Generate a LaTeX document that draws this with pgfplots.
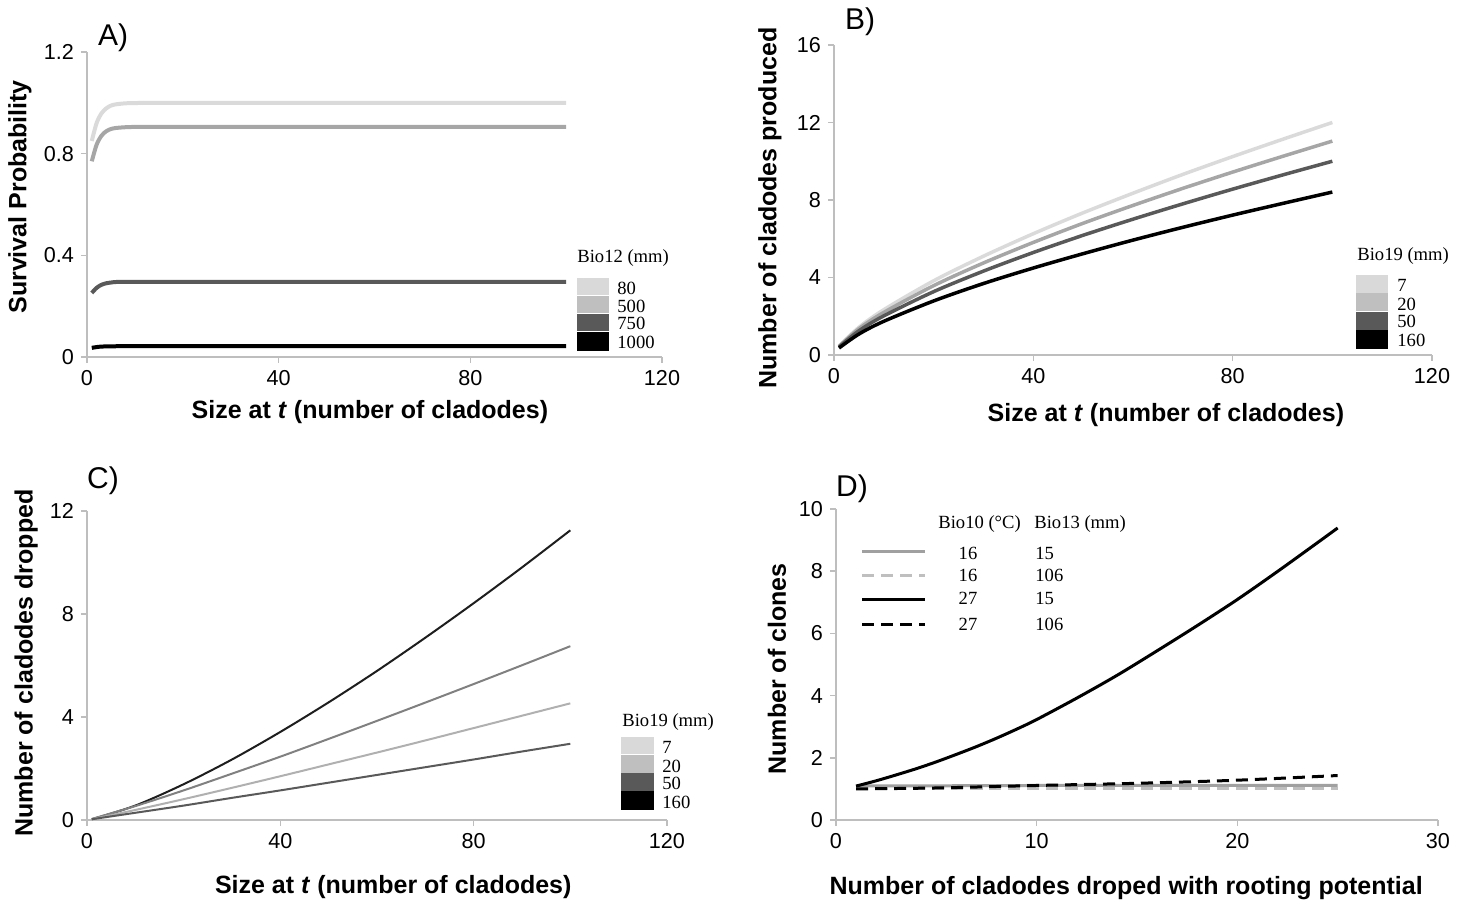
\documentclass[border=0pt]{standalone}
\usepackage{fontspec}
\setmainfont{Liberation Sans}
\newfontfamily\tnr{Liberation Serif}
\usepackage{pgfplots}
\pgfplotsset{compat=1.18}

\definecolor{axgray}{HTML}{BEBEBE}
\definecolor{sw1}{HTML}{D9D9D9}
\definecolor{sw2}{HTML}{BFBFBF}
\definecolor{sw3}{HTML}{595959}
\definecolor{ln1}{HTML}{DADADA}
\definecolor{ln2}{HTML}{A6A6A6}
\definecolor{ln3}{HTML}{595959}
\definecolor{cTop}{HTML}{1E1E1E}
\definecolor{cMid}{HTML}{808080}
\definecolor{cLight}{HTML}{B0B0B0}
\definecolor{dGray}{HTML}{A0A0A0}
\definecolor{dLight}{HTML}{BFBFBF}

\pgfplotsset{
  panel/.style={
    scale only axis,
    axis lines=left,
    axis line style={-, draw=axgray, line width=0.7pt},
    tick style={draw=axgray, line width=0.7pt},
    tick align=outside,
    major tick length=3pt,
    ticklabel style={font=\fontsize{10.8}{12}\selectfont},
    /pgf/number format/assume math mode=true,
    label style={font=\bfseries\fontsize{12.5}{14}\selectfont},
    xlabel style={anchor=center},
    ylabel style={anchor=center},
    clip=false,
    every axis plot/.append style={no marks, smooth},
  },
}

\begin{document}
\begin{tikzpicture}
\useasboundingbox (0,0) rectangle (732pt,450.5pt);

% A) survival
\begin{axis}[panel, at={(43.5pt,272pt)}, anchor=south west,
  width=287.5pt, height=152.5pt,
  xmin=0, xmax=120, ymin=0, ymax=1.2,
  xtick={0,40,80,120}, ytick={0,0.4,0.8,1.2},
  xlabel={Size at \textit{t} (number of cladodes)},
  ylabel={Survival Probability},
  xlabel style={at={(axis description cs:0.492,-0.18)}},
  ylabel style={at={(axis description cs:-0.1165,0.525)}}]
\addplot[ln1, line width=2pt] coordinates {(1,0.85)(2,0.92)(3,0.958)(4,0.978)(5,0.989)(6,0.994)(8,0.998)(10,0.999)(20,1.0)(100,1.0)};
\addplot[ln2, line width=2pt] coordinates {(1,0.77)(2,0.835)(3,0.870)(4,0.888)(5,0.897)(6,0.901)(8,0.904)(10,0.905)(20,0.905)(100,0.905)};
\addplot[ln3, line width=2pt] coordinates {(1,0.252)(2,0.272)(3,0.284)(4,0.290)(5,0.293)(6,0.295)(8,0.296)(10,0.296)(20,0.296)(100,0.296)};
\addplot[black, line width=2pt] coordinates {(1,0.036)(2,0.039)(3,0.041)(5,0.042)(10,0.043)(20,0.043)(100,0.043)};
\end{axis}

% B) cladodes produced
\begin{axis}[panel, at={(417pt,273pt)}, anchor=south west,
  width=299pt, height=155pt,
  xmin=0, xmax=120, ymin=0, ymax=16,
  xtick={0,40,80,120}, ytick={0,4,8,12,16},
  xlabel={Size at \textit{t} (number of cladodes)},
  ylabel={Number of cladodes produced},
  xlabel style={at={(axis description cs:0.555,-0.194)}},
  ylabel style={at={(axis description cs:-0.107,0.474)}}]
\addplot[ln1, line width=1.75pt] coordinates {(1,0.46)(5,1.43)(10,2.34)(20,3.83)(30,5.10)(40,6.26)(50,7.34)(60,8.35)(70,9.32)(80,10.24)(90,11.13)(100,12.0)};
\addplot[ln2, line width=1.75pt] coordinates {(1,0.44)(5,1.36)(10,2.20)(20,3.58)(30,4.75)(40,5.81)(50,6.80)(60,7.72)(70,8.60)(80,9.44)(90,10.25)(100,11.04)};
\addplot[ln3, line width=1.75pt] coordinates {(1,0.41)(5,1.25)(10,2.02)(20,3.27)(30,4.33)(40,5.29)(50,6.18)(60,7.01)(70,7.80)(80,8.56)(90,9.29)(100,10.0)};
\addplot[black, line width=1.75pt] coordinates {(1,0.36)(5,1.08)(10,1.74)(20,2.79)(30,3.69)(40,4.49)(50,5.23)(60,5.93)(70,6.59)(80,7.22)(90,7.82)(100,8.41)};
\end{axis}

% C) cladodes dropped
\begin{axis}[panel, at={(43.5pt,40.5pt)}, anchor=south west,
  width=290pt, height=154.5pt,
  xmin=0, xmax=120, ymin=0, ymax=12,
  xtick={0,40,80,120}, ytick={0,4,8,12},
  xlabel={Size at \textit{t} (number of cladodes)},
  ylabel={Number of cladodes dropped},
  xlabel style={at={(axis description cs:0.528,-0.217)}},
  ylabel style={at={(axis description cs:-0.105,0.508)}}]
\addplot[cTop, line width=1pt] coordinates {(1,0.03)(10,0.56)(20,1.39)(30,2.35)(40,3.42)(50,4.57)(60,5.79)(70,7.08)(80,8.42)(90,9.81)(100,11.25)};
\addplot[cMid, line width=1pt] coordinates {(1,0.04)(10,0.54)(20,1.15)(30,1.80)(40,2.46)(50,3.15)(60,3.85)(70,4.56)(80,5.28)(90,6.01)(100,6.75)};
\addplot[cLight, line width=1pt] coordinates {(1,0.03)(10,0.39)(20,0.81)(30,1.25)(40,1.70)(50,2.16)(60,2.62)(70,3.09)(80,3.57)(90,4.05)(100,4.53)};
\addplot[ln3, line width=1pt] coordinates {(1,0.03)(10,0.28)(20,0.56)(30,0.86)(40,1.15)(50,1.45)(60,1.75)(70,2.05)(80,2.35)(90,2.66)(100,2.96)};
\end{axis}

% D) clones
\begin{axis}[panel, at={(418pt,40.5pt)}, anchor=south west,
  width=301pt, height=155.5pt,
  xmin=0, xmax=30, ymin=0, ymax=10,
  xtick={0,10,20,30}, ytick={0,2,4,6,8,10},
  xlabel={Number of cladodes droped with rooting potential},
  ylabel={Number of clones},
  xlabel style={at={(axis description cs:0.482,-0.219)}},
  ylabel style={at={(axis description cs:-0.098,0.486)}}]
\addplot[dGray, line width=1.5pt] coordinates {(1,1.10)(5,1.10)(10,1.11)(15,1.11)(20,1.11)(25,1.11)};
\addplot[dLight, line width=1.5pt, dash pattern=on 6pt off 3.5pt] coordinates {(1,1.02)(5,1.02)(10,1.02)(15,1.02)(20,1.02)(25,1.02)};
\addplot[black, line width=1.5pt] coordinates {(1,1.09)(2,1.26)(3,1.45)(4,1.65)(5,1.87)(6,2.11)(7,2.36)(8,2.63)(9,2.92)(10,3.23)(12,3.92)(14,4.65)(16,5.44)(18,6.25)(20,7.09)(22,7.99)(24,8.92)(25,9.39)};
\addplot[black, line width=1.5pt, dash pattern=on 6pt off 3.5pt] coordinates {(1,1.00)(5,1.03)(10,1.11)(15,1.18)(20,1.28)(25,1.43)};
\end{axis}

% legends and panel letters, placed in image pixel units
\begin{scope}[x=0.5pt, y=-0.5pt, shift={(0pt,450.5pt)},
  lg/.style={anchor=west, inner sep=0pt, font=\tnr\fontsize{9.3}{10}\selectfont},
  pl/.style={font=\fontsize{15}{17}\selectfont}]
\node[pl] at (113,38) {A)};
\node[pl] at (860,22) {B)};
\node[pl] at (103,481) {C)};
\node[pl] at (852,489) {D)};

% A legend
\node[lg] at (577,258) {Bio12 (mm)};
\fill[sw1] (577,278) rectangle (609,295.5);
\fill[sw2] (577,296) rectangle (609,313.5);
\fill[sw3] (577,314) rectangle (609,331.5);
\fill[black] (577,332) rectangle (609,351);
\node[lg] at (617,288) {80};
\node[lg] at (617,306) {500};
\node[lg] at (617,323) {750};
\node[lg] at (617,342) {1000};

% B legend
\node[lg] at (1357,256) {Bio19 (mm)};
\fill[sw1] (1356,275) rectangle (1388,293);
\fill[sw2] (1356,293.5) rectangle (1388,311.5);
\fill[sw3] (1356,312) rectangle (1388,330);
\fill[black] (1356,330.5) rectangle (1388,349);
\node[lg] at (1397,285) {7};
\node[lg] at (1397,304) {20};
\node[lg] at (1397,321) {50};
\node[lg] at (1397,340) {160};

% C legend
\node[lg] at (622,722) {Bio19 (mm)};
\fill[sw1] (621,737) rectangle (654,754.5);
\fill[sw2] (621,755) rectangle (654,773);
\fill[sw3] (621,773.5) rectangle (654,791);
\fill[black] (621,791.5) rectangle (654,810);
\node[lg] at (662,747) {7};
\node[lg] at (662,766) {20};
\node[lg] at (662,783) {50};
\node[lg] at (662,802) {160};

% D legend
\node[lg] at (938,524) {Bio10 (°C)};
\node[lg] at (1034,524) {Bio13 (mm)};
\draw[dGray, line width=1.5pt] (862,552) -- (925,552);
\draw[dLight, line width=1.5pt, dash pattern=on 6pt off 3.5pt] (862,576) -- (925,576);
\draw[black, line width=1.5pt] (862,600) -- (925,600);
\draw[black, line width=1.5pt, dash pattern=on 6pt off 3.5pt] (862,625) -- (925,625);
\node[lg, anchor=center] at (968,553) {16};
\node[lg, anchor=center] at (968,575) {16};
\node[lg, anchor=center] at (968,598) {27};
\node[lg, anchor=center] at (968,624) {27};
\node[lg] at (1035,553) {15};
\node[lg] at (1035,575) {106};
\node[lg] at (1035,598) {15};
\node[lg] at (1035,624) {106};
\end{scope}
\end{tikzpicture}
\end{document}
